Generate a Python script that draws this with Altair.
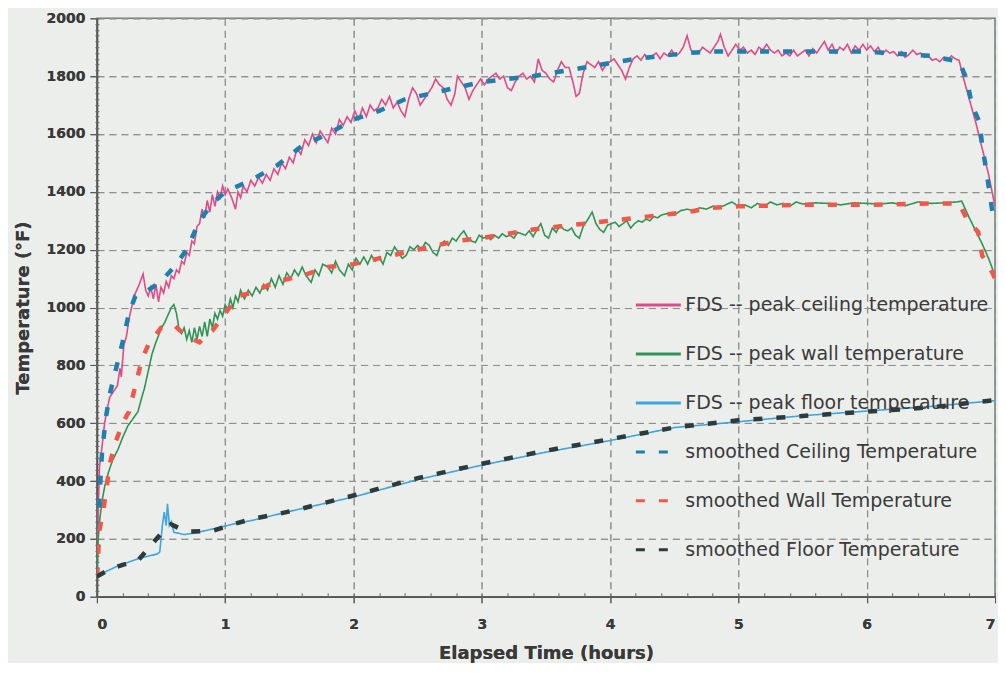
import altair as alt
import pandas as pd

# ---------------- data ----------------
ceiling_t = [0.00, 0.01, 0.02, 0.04, 0.06, 0.08, 0.10, 0.13, 0.16, 0.18, 0.19, 0.21, 0.23, 0.25, 0.27, 0.30,
             0.33, 0.36, 0.38, 0.40, 0.42, 0.44, 0.46, 0.48, 0.50, 0.52, 0.54, 0.56, 0.58, 0.60, 0.62, 0.64,
             0.66, 0.68, 0.70, 0.72, 0.74, 0.76, 0.78, 0.80, 0.82, 0.84, 0.86, 0.88, 0.90, 0.92, 0.94, 0.96,
             0.98, 1.00, 1.02, 1.05, 1.08, 1.10, 1.12, 1.14, 1.17, 1.20, 1.23, 1.26, 1.29, 1.32, 1.35, 1.38,
             1.41, 1.44, 1.47, 1.50, 1.53, 1.56, 1.59, 1.62, 1.65, 1.68, 1.71, 1.74, 1.77, 1.80, 1.83, 1.86,
             1.89, 1.92, 1.95, 1.98, 2.01, 2.04, 2.07, 2.10, 2.13, 2.16, 2.19, 2.22, 2.25, 2.28, 2.31, 2.34,
             2.37, 2.40, 2.43, 2.46, 2.49, 2.52, 2.55, 2.58, 2.61, 2.64, 2.67, 2.70, 2.73, 2.76, 2.79, 2.81,
             2.84, 2.87, 2.90, 2.93, 2.96, 2.99, 3.02, 3.05, 3.08, 3.11, 3.14, 3.17, 3.20, 3.23, 3.26, 3.29,
             3.32, 3.35, 3.38, 3.41, 3.44, 3.47, 3.50, 3.53, 3.56, 3.59, 3.62, 3.65, 3.68, 3.71, 3.735, 3.76,
             3.79, 3.82, 3.85, 3.88, 3.91, 3.94, 3.97, 4.00, 4.03, 4.06, 4.09, 4.12, 4.15, 4.18, 4.21, 4.24,
             4.27, 4.30, 4.33, 4.36, 4.39, 4.42, 4.45, 4.48, 4.51, 4.54, 4.57, 4.60, 4.63, 4.66, 4.69, 4.72,
             4.75, 4.78, 4.81, 4.84, 4.86, 4.89, 4.92, 4.95, 4.98, 5.01, 5.04, 5.07, 5.10, 5.13, 5.16, 5.19,
             5.22, 5.25, 5.28, 5.31, 5.34, 5.37, 5.40, 5.43, 5.46, 5.49, 5.52, 5.55, 5.58, 5.61, 5.64, 5.67,
             5.70, 5.73, 5.76, 5.79, 5.82, 5.85, 5.88, 5.91, 5.94, 5.97, 6.00, 6.03, 6.06, 6.09, 6.12, 6.15,
             6.18, 6.21, 6.24, 6.27, 6.30, 6.33, 6.36, 6.39, 6.42, 6.45, 6.48, 6.51, 6.54, 6.57, 6.60, 6.63,
             6.66, 6.69, 6.72, 6.75, 6.85, 6.95, 7.00]
ceiling_T = [70, 300, 450, 520, 600, 650, 690, 710, 730, 790, 760, 870, 900, 960, 1000, 1050,
             1080, 1116, 1060, 1040, 1070, 1030, 1080, 1020, 1070, 1050, 1090, 1070, 1110, 1100, 1130, 1120,
             1160, 1150, 1190, 1180, 1230, 1220, 1280, 1290, 1340, 1310, 1370, 1330, 1390, 1350, 1400, 1380,
             1420, 1390, 1410, 1380, 1340, 1400, 1380, 1420, 1400, 1440, 1420, 1450, 1430, 1460, 1440, 1480,
             1460, 1500, 1480, 1520, 1500, 1550, 1530, 1580, 1560, 1600, 1570, 1610, 1590, 1570, 1620, 1600,
             1650, 1630, 1660, 1640, 1680, 1650, 1690, 1660, 1700, 1680, 1690, 1720, 1700, 1730, 1690, 1710,
             1680, 1660, 1720, 1760, 1740, 1700, 1720, 1740, 1760, 1790, 1770, 1760, 1720, 1700, 1740, 1800,
             1780, 1760, 1720, 1750, 1770, 1790, 1770, 1790, 1800, 1810, 1790, 1800, 1760, 1750, 1780, 1800,
             1810, 1790, 1800, 1780, 1860, 1820, 1810, 1790, 1780, 1820, 1850, 1830, 1830, 1780, 1730, 1740,
             1810, 1850, 1840, 1830, 1850, 1820, 1840, 1850, 1860, 1840, 1820, 1790, 1830, 1860, 1870, 1855,
             1875, 1860, 1870, 1880, 1860, 1880, 1870, 1890, 1870, 1880, 1900, 1940, 1890, 1880, 1880, 1900,
             1890, 1880, 1900, 1920, 1945, 1900, 1870, 1890, 1910, 1890, 1900, 1880, 1890, 1875, 1900, 1890,
             1910, 1890, 1880, 1890, 1870, 1880, 1870, 1890, 1870, 1880, 1890, 1870, 1895, 1880, 1900, 1920,
             1890, 1910, 1880, 1900, 1890, 1910, 1880, 1905, 1890, 1910, 1890, 1905, 1885, 1900, 1875, 1890,
             1880, 1885, 1870, 1885, 1865, 1875, 1890, 1875, 1880, 1865, 1870, 1855, 1860, 1850, 1865, 1855,
             1870, 1860, 1855, 1800, 1640, 1460, 1350]

wall_t = [0.00, 0.01, 0.02, 0.04, 0.06, 0.09, 0.12, 0.165, 0.20, 0.24, 0.28, 0.32, 0.35, 0.37, 0.40, 0.43,
          0.46, 0.50, 0.53, 0.56, 0.58, 0.60, 0.62, 0.64, 0.66, 0.68, 0.70, 0.72, 0.74, 0.76, 0.78, 0.80,
          0.82, 0.84, 0.86, 0.88, 0.90, 0.92, 0.94, 0.96, 0.98, 1.00, 1.02, 1.04, 1.06, 1.08, 1.10, 1.12,
          1.15, 1.18, 1.21, 1.24, 1.27, 1.30, 1.33, 1.36, 1.39, 1.42, 1.45, 1.48, 1.51, 1.54, 1.57, 1.60,
          1.63, 1.67, 1.70, 1.73, 1.76, 1.80, 1.83, 1.86, 1.89, 1.93, 1.96, 1.99, 2.02, 2.05, 2.08, 2.11,
          2.14, 2.17, 2.20, 2.23, 2.26, 2.29, 2.32, 2.35, 2.38, 2.41, 2.44, 2.47, 2.50, 2.53, 2.56, 2.59,
          2.62, 2.65, 2.68, 2.71, 2.74, 2.77, 2.80, 2.83, 2.86, 2.89, 2.92, 2.95, 2.98, 3.01, 3.04, 3.07,
          3.10, 3.13, 3.16, 3.19, 3.22, 3.25, 3.28, 3.31, 3.34, 3.37, 3.40, 3.43, 3.46, 3.49, 3.52, 3.55,
          3.58, 3.61, 3.64, 3.67, 3.70, 3.73, 3.76, 3.79, 3.82, 3.86, 3.89, 3.92, 3.95, 3.98, 4.01, 4.04,
          4.07, 4.10, 4.13, 4.16, 4.19, 4.22, 4.25, 4.28, 4.31, 4.34, 4.37, 4.40, 4.45, 4.50, 4.55, 4.60,
          4.65, 4.70, 4.75, 4.80, 4.85, 4.90, 4.95, 5.00, 5.05, 5.10, 5.15, 5.20, 5.25, 5.30, 5.35, 5.40,
          5.45, 5.50, 5.60, 5.70, 5.80, 5.90, 6.00, 6.10, 6.20, 6.30, 6.40, 6.50, 6.60, 6.70, 6.74, 6.80,
          6.90, 6.95, 7.00]
wall_T = [70, 200, 260, 330, 380, 430, 470, 510, 550, 590, 615, 640, 690, 720, 780, 840,
          880, 926, 950, 980, 1000, 1010, 980, 926, 910, 930, 890, 920, 880, 930, 890, 935,
          900, 950, 900, 960, 930, 980, 960, 990, 970, 1010, 990, 1030, 1000, 1040, 1020, 1060,
          1030, 1060, 1040, 1070, 1050, 1080, 1060, 1100, 1070, 1110, 1080, 1120, 1100, 1130, 1110, 1140,
          1110, 1087, 1130, 1110, 1150, 1140, 1120, 1160, 1130, 1110, 1150, 1130, 1170, 1150, 1175, 1150,
          1180, 1160, 1175, 1150, 1190, 1180, 1210, 1190, 1170, 1180, 1210, 1200, 1215, 1200, 1225, 1215,
          1190, 1180, 1220, 1230, 1215, 1240, 1230, 1250, 1265, 1240, 1230, 1225, 1250, 1240, 1245, 1235,
          1250, 1240, 1255, 1245, 1250, 1240, 1260, 1255, 1250, 1265, 1245, 1270, 1290, 1250, 1240, 1275,
          1260, 1285, 1270, 1265, 1275, 1250, 1240, 1280, 1300, 1330, 1290, 1270, 1260, 1285, 1290, 1295,
          1280, 1290, 1300, 1275, 1290, 1300, 1295, 1306, 1300, 1315, 1310, 1320, 1325, 1320, 1335, 1340,
          1335, 1345, 1340, 1350, 1345, 1355, 1365, 1350, 1355, 1345, 1360, 1350, 1365, 1355, 1360, 1350,
          1365, 1358, 1362, 1360, 1355, 1362, 1360, 1358, 1362, 1352, 1365, 1360, 1362, 1365, 1368, 1310,
          1220, 1170, 1110]

floor_t = [0.00, 0.06, 0.17, 0.32, 0.47, 0.49, 0.51, 0.525, 0.54, 0.55, 0.565, 0.58, 0.60, 0.68, 0.76, 0.91,
           1.07, 1.22, 1.53, 2.00, 2.50, 3.00, 3.50, 4.00, 4.50, 5.00, 5.50, 6.00, 6.50, 7.00]
floor_T = [70, 85, 108, 131, 148, 155, 246, 293, 246, 321, 246, 260, 223, 215, 220, 235,
           252, 265, 298, 345, 405, 455, 500, 540, 585, 605, 626, 642, 658, 678]

s_ceiling_t = [0.00, 0.02, 0.04, 0.07, 0.10, 0.15, 0.20, 0.25, 0.30, 0.40, 0.50, 0.60, 0.70, 0.80, 0.90, 1.00,
               1.20, 1.40, 1.60, 1.80, 2.00, 2.20, 2.40, 2.60, 2.80, 3.00, 3.20, 3.40, 3.60, 3.80, 4.00, 4.20,
               4.40, 4.60, 4.80, 5.00, 5.50, 6.00, 6.50, 6.72, 6.78, 6.82, 6.88, 6.90, 6.93, 6.98, 7.00]
s_ceiling_T = [70, 350, 500, 620, 700, 790, 880, 980, 1040, 1060, 1090, 1140, 1200, 1300, 1360, 1400,
               1440, 1490, 1560, 1600, 1650, 1680, 1720, 1740, 1760, 1780, 1790, 1800, 1815, 1830, 1845, 1860,
               1870, 1880, 1885, 1885, 1885, 1885, 1870, 1850, 1790, 1700, 1640, 1560, 1480, 1330, 1300]

s_wall_t = [0.00, 0.02, 0.05, 0.08, 0.10, 0.15, 0.20, 0.25, 0.30, 0.35, 0.40, 0.50, 0.60, 0.70, 0.80, 0.90,
            1.00, 1.10, 1.20, 1.40, 1.60, 1.80, 2.00, 2.20, 2.40, 2.60, 2.80, 3.00, 3.20, 3.40, 3.60, 3.80,
            4.00, 4.20, 4.40, 4.60, 4.80, 5.00, 5.50, 6.00, 6.50, 6.72, 6.78, 6.87, 6.90, 6.98, 7.00]
s_wall_T = [70, 230, 300, 390, 460, 540, 600, 640, 730, 820, 870, 930, 940, 900, 880, 920,
            980, 1040, 1050, 1090, 1110, 1140, 1150, 1170, 1190, 1210, 1230, 1240, 1255, 1270, 1280, 1290,
            1300, 1310, 1320, 1330, 1345, 1350, 1355, 1355, 1360, 1360, 1306, 1260, 1180, 1120, 1100]

s_floor_t = [0.00, 0.10, 0.20, 0.32, 0.41, 0.50, 0.58, 0.65, 0.72, 0.91, 1.07, 1.22, 1.40, 1.60, 2.00, 2.50,
             3.00, 3.50, 4.00, 4.50, 5.00, 5.50, 6.00, 6.50, 7.00]
s_floor_T = [70, 95, 110, 125, 172, 218, 250, 235, 225, 229, 252, 270, 285, 305, 350, 410,
             460, 505, 545, 585, 610, 625, 640, 655, 680]

series_names = ["FDS -- peak ceiling temperature", "FDS -- peak wall temperature",
                "FDS -- peak floor temperature", "smoothed Ceiling Temperature",
                "smoothed Wall Temperature", "smoothed Floor Temperature"]
series_colors = ["#e04a86", "#2f9455", "#3ea6de", "#1f7fae", "#f0594a", "#2d3b3a"]
series_dash = [[1, 0], [1, 0], [1, 0], [9, 14], [9, 14], [9, 14]]

x_ticks = [0, 1, 2, 3, 4, 5, 6, 7]
y_ticks = [0, 200, 400, 600, 800, 1000, 1200, 1400, 1600, 1800, 2000]
x_minor = [i / 5 for i in range(0, 36)]
y_minor = list(range(0, 2001, 20))

# ---------------- build table ----------------
rows = []
for name, ts, vs in [(series_names[0], ceiling_t, ceiling_T), (series_names[1], wall_t, wall_T),
                     (series_names[2], floor_t, floor_T), (series_names[3], s_ceiling_t, s_ceiling_T),
                     (series_names[4], s_wall_t, s_wall_T), (series_names[5], s_floor_t, s_floor_T)]:
    for t, v in zip(ts, vs):
        rows.append({"t": t, "temp": v, "series": name, "kind": "fds" if name.startswith("FDS") else "smooth"})
df = pd.DataFrame(rows)

FONT = "DejaVu Sans"
TXT = "#3a3a3a"

color_scale = alt.Scale(domain=series_names, range=series_colors)
dash_scale = alt.Scale(domain=series_names, range=series_dash)

xs = alt.Scale(domain=[0, 7], nice=False, zero=False)
ys = alt.Scale(domain=[0, 2000], nice=False)

legend = alt.Legend(
    title=None, orient="none", legendX=538, legendY=263,
    symbolType="stroke", symbolSize=2025, labelFontSize=19, labelFont=FONT, labelColor=TXT,
    rowPadding=15, labelOffset=3, symbolStrokeWidth=3, labelLimit=400,
)

enc_common = dict(
    color=alt.Color("series:N", scale=color_scale, legend=legend, sort=series_names),
    strokeDash=alt.StrokeDash("series:N", scale=dash_scale, legend=legend, sort=series_names),
    detail="series:N",
)

x_major = alt.Axis(values=x_ticks, title="Elapsed Time (hours)", grid=True, gridDash=[7, 5],
                   gridColor="#8e8e8e", gridWidth=1, labelFont=FONT, labelFontWeight="bold",
                   labelFontSize=14, labelColor=TXT, titleFont=FONT, titleFontWeight="bold",
                   titleFontSize=18, titleColor=TXT, domainColor="#555555", domainWidth=1.5,
                   tickColor="#555555", tickSize=6, labelPadding=15, titlePadding=13, format="d",
                   orient="bottom")
y_major = alt.Axis(values=y_ticks, title="Temperature (°F)", grid=True, gridDash=[7, 5],
                   gridColor="#8e8e8e", gridWidth=1, labelFont=FONT, labelFontWeight="bold",
                   labelFontSize=14, labelColor=TXT, titleFont=FONT, titleFontWeight="bold",
                   titleFontSize=18, titleColor=TXT, domainColor="#555555", domainWidth=1.5,
                   tickColor="#555555", tickSize=7, labelPadding=5, titlePadding=14, format="d",
                   orient="left")

base = alt.Chart(df)

fds = base.transform_filter(alt.datum.kind == "fds").mark_line(clip=True, strokeWidth=1.6).encode(
    x=alt.X("t:Q", scale=xs, axis=x_major),
    y=alt.Y("temp:Q", scale=ys, axis=y_major),
    **enc_common,
)

smooth = base.transform_filter(alt.datum.kind == "smooth").mark_line(clip=True, strokeWidth=4.5).encode(
    x=alt.X("t:Q", scale=xs, axis=x_major),
    y=alt.Y("temp:Q", scale=ys, axis=y_major),
    **enc_common,
)

minor = base.mark_point(opacity=0).encode(
    x=alt.X("t:Q", scale=xs, axis=alt.Axis(values=x_minor, labels=False, grid=False, domain=False,
                                           title=None, tickSize=4, tickColor="#666666", orient="bottom",
                                           offset=-4)),
    y=alt.Y("temp:Q", scale=ys, axis=alt.Axis(values=y_minor, labels=False, grid=False, domain=False,
                                              title=None, tickSize=4, tickColor="#666666", orient="left",
                                              offset=-2)),
)

chart = alt.layer(fds, smooth, minor).resolve_axis(x="independent", y="independent").properties(
    width=899, height=579, background="#eceeeb",
    padding={"left": 6, "top": 3, "right": 0, "bottom": 0},
).configure_view(stroke="#6f7f76", strokeWidth=1.5, fill="#eceeeb")

chart.save("out.html", embed_options={"renderer": "svg", "actions": False})
